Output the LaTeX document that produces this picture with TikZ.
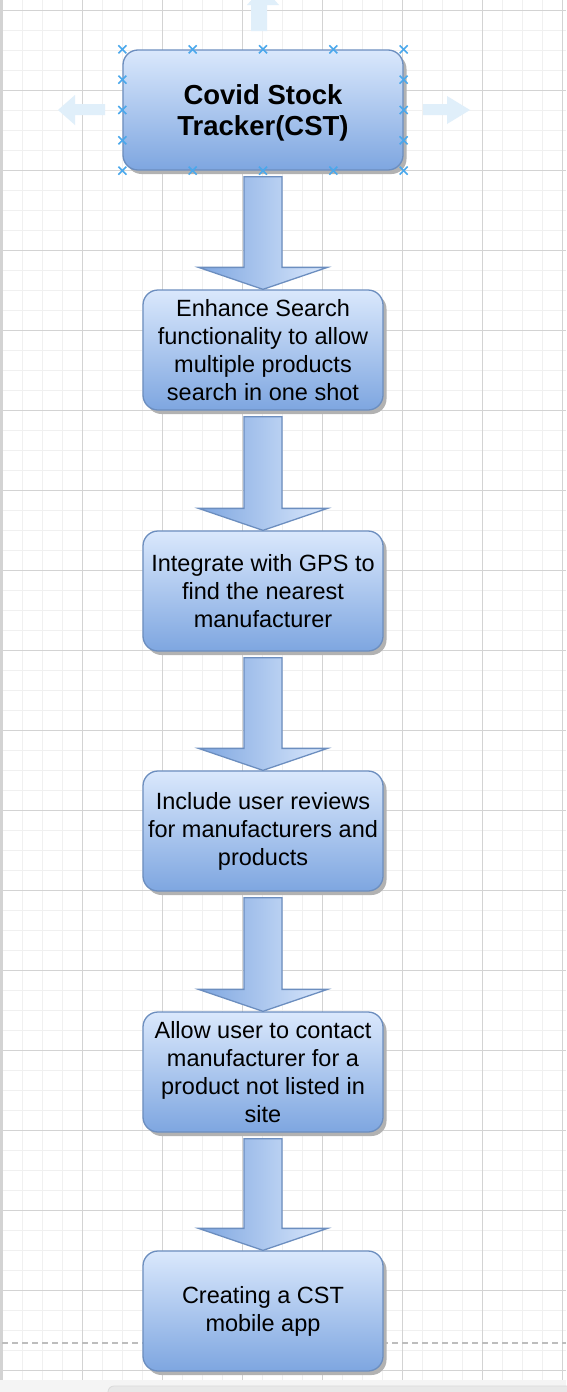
\documentclass[tikz,border=0pt]{standalone}
\usepackage{fontspec}
\setmainfont{Liberation Sans}
\usetikzlibrary{calc,shadows}
\definecolor{gridminor}{HTML}{F0F0F0}
\definecolor{gridmajor}{HTML}{D3D3D3}
\definecolor{boxtop}{HTML}{DAE8FC}
\definecolor{boxbot}{HTML}{7EA6E0}
\definecolor{boxline}{HTML}{6C8EBF}
\definecolor{handle}{HTML}{4AA8EC}
\definecolor{ghost}{HTML}{E0EFFA}
\definecolor{pagebg}{HTML}{F4F4F4}
\definecolor{scroll}{HTML}{E8E8E8}
\definecolor{scrollline}{HTML}{DADADA}
\definecolor{dashgray}{HTML}{BDBDBD}
\tikzset{
  flowbox/.style={draw=boxline, line width=1.3pt, rounded corners=15pt,
    top color=boxtop, bottom color=boxbot, minimum width=240pt, minimum height=120pt,
    inner sep=0pt, align=center, font=\fontsize{23.5}{28}\selectfont,
    drop shadow={shadow xshift=3.5pt, shadow yshift=-4pt, fill=black!30, opacity=1}},
  titlebox/.style={flowbox, minimum width=280pt},
  titletext/.style={align=center, inner sep=0pt, font=\fontsize{27.5}{31}\selectfont\bfseries},
  blockarrow/.style={draw=boxline, line width=1.3pt, left color=boxbot, right color=boxtop, line join=miter},
  handlemark/.style={draw=handle, line width=1.6pt},
  ghostarrow/.style={fill=ghost, draw=none}
}
\newcommand{\flowarrow}[2]{%
  \path[blockarrow] ($(#1.south)+(-19,-6)$) -- ($(#1.south)+(19,-6)$) --
    ($(#2.north)+(19,22)$) -- ($(#2.north)+(64.5,22)$) -- (#2.north) --
    ($(#2.north)+(-64.5,22)$) -- ($(#2.north)+(-19,22)$) -- cycle;}
\begin{document}
\begin{tikzpicture}[x=1pt,y=1pt]
\useasboundingbox (0,0) rectangle (566,-1392);
% page background
\fill[white] (0,0) rectangle (566,-1380);
% grid minor
\foreach \x in {2,22,...,562} \draw[gridminor, line width=1pt] (\x,0) -- (\x,-1380);
\foreach \y in {10,30,...,1370} \draw[gridminor, line width=1pt] (2,-\y) -- (566,-\y);
% grid major
\foreach \x in {2,82,...,562} \draw[gridmajor, line width=1pt] (\x,0) -- (\x,-1380);
\foreach \y in {10,90,...,1370} \draw[gridmajor, line width=1pt] (2,-\y) -- (566,-\y);
% left page border
\draw[gridmajor, line width=2.5pt] (1,0) -- (1,-1380);
% page break dashed line
\draw[dashgray, line width=1.2pt, dash pattern=on 6pt off 4pt] (2,-1343) -- (566,-1343);
% bottom bar
\fill[pagebg] (0,-1380) rectangle (566,-1392);
\draw[scrollline, fill=scroll, rounded corners=6pt, line width=0.8pt] (108,-1386) rectangle (590,-1400);

% ghost move arrows around the selected box
\path[ghostarrow] (251,-31) -- (251,-5) -- (247,-5) -- (263,13) -- (279,-5) -- (267,-5) -- (267,-31) -- cycle;
\path[ghostarrow] (105,-104) -- (75,-104) -- (75,-95) -- (58,-110) -- (75,-125) -- (75,-115) -- (105,-115) -- cycle;
\path[ghostarrow] (423,-104) -- (447,-104) -- (447,-96) -- (470,-110) -- (447,-124) -- (447,-115) -- (423,-115) -- cycle;

% boxes
\node[titlebox] (cst) at (263,-110) {};
\node[titletext] (cstlabel) at ($(cst.center)+(0,-3)$) {Covid Stock\\Tracker(CST)};
\node[flowbox] (search) at (263,-350) {\raisebox{-1.5pt}{}Enhance Search\\functionality to allow\\multiple products\\search in one shot};
\node[flowbox] (gps) at (263,-591) {Integrate with GPS to\\find the nearest\\manufacturer};
\node[flowbox] (reviews) at (263,-831) {Include user reviews\\for manufacturers and\\products};
\node[flowbox] (contact) at (263,-1072) {Allow user to contact\\manufacturer for a\\product not listed in\\site};
\node[flowbox] (app) at (263,-1311) {Creating a CST\\mobile app};

% block arrows
\flowarrow{cst}{search}
\flowarrow{search}{gps}
\flowarrow{gps}{reviews}
\flowarrow{reviews}{contact}
\flowarrow{contact}{app}

% selection handles
\foreach \t in {0,0.25,0.5,0.75,1} {
  \draw[handlemark] ($(cst.north west)!\t!(cst.north east)+(-4,-4)$) -- ++(8,8);
  \draw[handlemark] ($(cst.north west)!\t!(cst.north east)+(-4,4)$) -- ++(8,-8);
  \draw[handlemark] ($(cst.south west)!\t!(cst.south east)+(-4,-4)$) -- ++(8,8);
  \draw[handlemark] ($(cst.south west)!\t!(cst.south east)+(-4,4)$) -- ++(8,-8);
}
\foreach \t in {0.25,0.5,0.75} {
  \draw[handlemark] ($(cst.north west)!\t!(cst.south west)+(-4,-4)$) -- ++(8,8);
  \draw[handlemark] ($(cst.north west)!\t!(cst.south west)+(-4,4)$) -- ++(8,-8);
  \draw[handlemark] ($(cst.north east)!\t!(cst.south east)+(-4,-4)$) -- ++(8,8);
  \draw[handlemark] ($(cst.north east)!\t!(cst.south east)+(-4,4)$) -- ++(8,-8);
}
\end{tikzpicture}
\end{document}
